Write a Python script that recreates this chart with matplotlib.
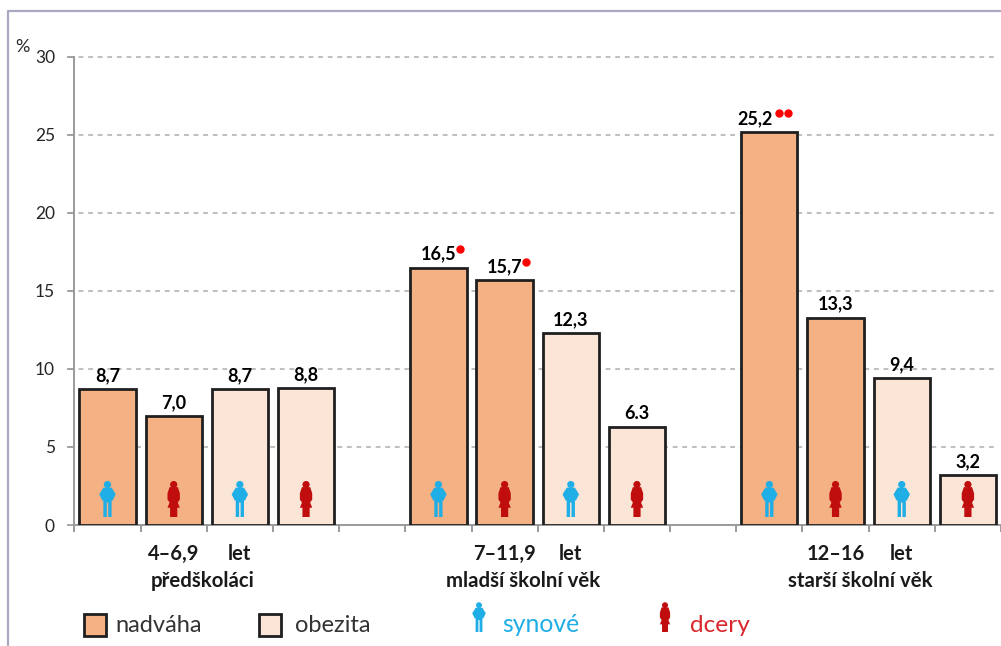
import matplotlib
matplotlib.use('Agg')
import matplotlib.pyplot as plt
from matplotlib.patches import Circle, Polygon, Rectangle
from matplotlib.lines import Line2D
from matplotlib.transforms import Affine2D

plt.rcParams['font.family'] = ['Lato', 'DejaVu Sans']

# slot 0-3 preschool, 5-8 younger, 10-13 older; slots 4 and 9 stay empty
slots = [0, 1, 2, 3, 5, 6, 7, 8, 10, 11, 12, 13]
values = [8.7, 7.0, 8.7, 8.8, 16.5, 15.7, 12.3, 6.3, 25.2, 13.3, 9.4, 3.2]
value_labels = ['8,7', '7,0', '8,7', '8,8', '16,5', '15,7', '12,3', '6.3', '25,2', '13,3', '9,4', '3,2']
kinds = ['nadvaha', 'nadvaha', 'obezita', 'obezita'] * 3
sexes = ['m', 'f', 'm', 'f'] * 3
dots = [0, 0, 0, 0, 1, 1, 0, 0, 2, 0, 0, 0]

age_slots = [1, 2, 6, 7, 11, 12]
age_labels = ['4–6,9', 'let', '7–11,9', 'let', '12–16', 'let']
group_labels = ['předškoláci', 'mladší školní věk', 'starší školní věk']
group_centers = [1.44, 6.28, 11.38]

colors = {'nadvaha': '#F4B183', 'obezita': '#FBE5D6'}
BLUE = '#1FAEE6'
RED = '#C00D0D'
W, H = 1001, 646

fig = plt.figure(figsize=(W / 100, H / 100), dpi=100)
ax = fig.add_axes([74.4 / W, 1 - 525 / H, (W - 74.4) / W, (525 - 57) / H])

ax.bar(slots, values, width=0.85, color=[colors[k] for k in kinds],
       edgecolor='#1f1f1f', linewidth=2, zorder=3)

ax.set_xlim(-0.5, 13.5)
ax.set_ylim(0, 30)
ax.set_yticks(range(0, 31, 5))
# dashed guides stop just short of the right edge and poke out left of the axis
ax.hlines(range(5, 31, 5), -0.58, 13.44, color='#c0c0c0', linestyle=(0, (2.3, 2.3)),
          linewidth=1.5, zorder=0, clip_on=False)
for side in ['top', 'right']:
    ax.spines[side].set_visible(False)
for side in ['left', 'bottom']:
    ax.spines[side].set_color('#9a9a9a')
    ax.spines[side].set_linewidth(1.4)
ax.tick_params(axis='y', length=5, color='#9a9a9a', width=1.2, labelsize=12.5,
               labelcolor='#262626', pad=9)

# x ticks mark the slot boundaries, the age labels sit on the slot centres
ax.set_xticks([i - 0.5 for i in range(15)], minor=True)
ax.tick_params(axis='x', which='minor', length=5, color='#9a9a9a', width=1.4)
ax.set_xticks(age_slots)
ax.set_xticklabels(age_labels, fontweight='bold', fontsize=14.5, color='#1a1a1a')
ax.tick_params(axis='x', which='major', length=0, pad=13.5)

for x, label in zip(group_centers, group_labels):
    ax.annotate(label, (x, 0), xytext=(0, -33), textcoords='offset points', ha='center',
                va='top', fontweight='bold', fontsize=14.7, color='#1a1a1a', annotation_clip=False)

ax.text(-1.17, 30.64, '%', ha='right', va='center', fontsize=13, color='#262626')


def person(x_px, y_px, sex, scale=1.0):
    # little pictogram standing on the pixel position (y measured from the bottom)
    tr = Affine2D().scale(scale).translate(x_px, y_px)
    color = BLUE if sex == 'm' else RED
    if sex == 'm':
        pts = [(-4, 28.5), (4, 28.5), (8, 22), (5, 16), (4, 16), (4, 0), (0.7, 0), (0.7, 14),
               (-0.7, 14), (-0.7, 0), (-4, 0), (-4, 16), (-5, 16), (-8, 22)]
    else:
        pts = [(-4, 29), (4, 29), (6, 23), (6, 17), (4, 14), (6, 9), (3.5, 9), (3.5, 0),
               (-3.5, 0), (-3.5, 9), (-6, 9), (-4, 14), (-6, 17), (-6, 23)]
    fig.add_artist(Polygon(pts, closed=True, facecolor=color, edgecolor='none', transform=tr, zorder=6))
    fig.add_artist(Circle((0, 31.5), 3.5, facecolor=color, edgecolor='none', transform=tr, zorder=6))


fig.canvas.draw()
for s, v, label, sex, n in zip(slots, values, value_labels, sexes, dots):
    # the doubly marked bar has its label pushed left to leave room for the dots
    shift = -10 if n == 2 else 0
    ax.annotate(label, (s, v), xytext=(shift, 3.5), textcoords='offset points', ha='center', va='bottom',
                fontweight='bold', fontsize=13, color='black', zorder=5)
    for k in range(n):
        dx = 21.5 if n == 1 else 10 + 9 * k
        ax.plot([s], [v], marker='o', markersize=5, color='#FF0000', linestyle='none', clip_on=False,
                zorder=5, transform=ax.transData + Affine2D().translate(dx, 18.5))
    xp, _ = ax.transData.transform((s, 0))
    person(xp, H - 517, sex, 1.03)

# outer frame of the panel
fig.add_artist(Line2D([8 / W, 8 / W, 1], [0, 1 - 11 / H, 1 - 11 / H], color='#a9a9c4', linewidth=1.6))

# legend row
for x0, kind, text in [(84, 'nadvaha', 'nadváha'), (259, 'obezita', 'obezita')]:
    fig.add_artist(Rectangle((x0 / W, 1 - 636 / H), 22 / W, 22 / H, facecolor=colors[kind],
                             edgecolor='#1f1f1f', linewidth=2, transform=fig.transFigure))
    fig.text((x0 + (31 if kind == 'nadvaha' else 36)) / W, 1 - 625 / H, text, ha='left', va='center',
             fontsize=17, color='#333333')
person(479, H - 632, 'm', 0.85)
person(665, H - 632, 'f', 0.85)
fig.text(502 / W, 1 - 625 / H, 'synové', ha='left', va='center', fontsize=17.8, color=BLUE)
fig.text(690 / W, 1 - 625 / H, 'dcery', ha='left', va='center', fontsize=17.6, color='#D8272D')

fig.savefig('out.png', dpi=100)
